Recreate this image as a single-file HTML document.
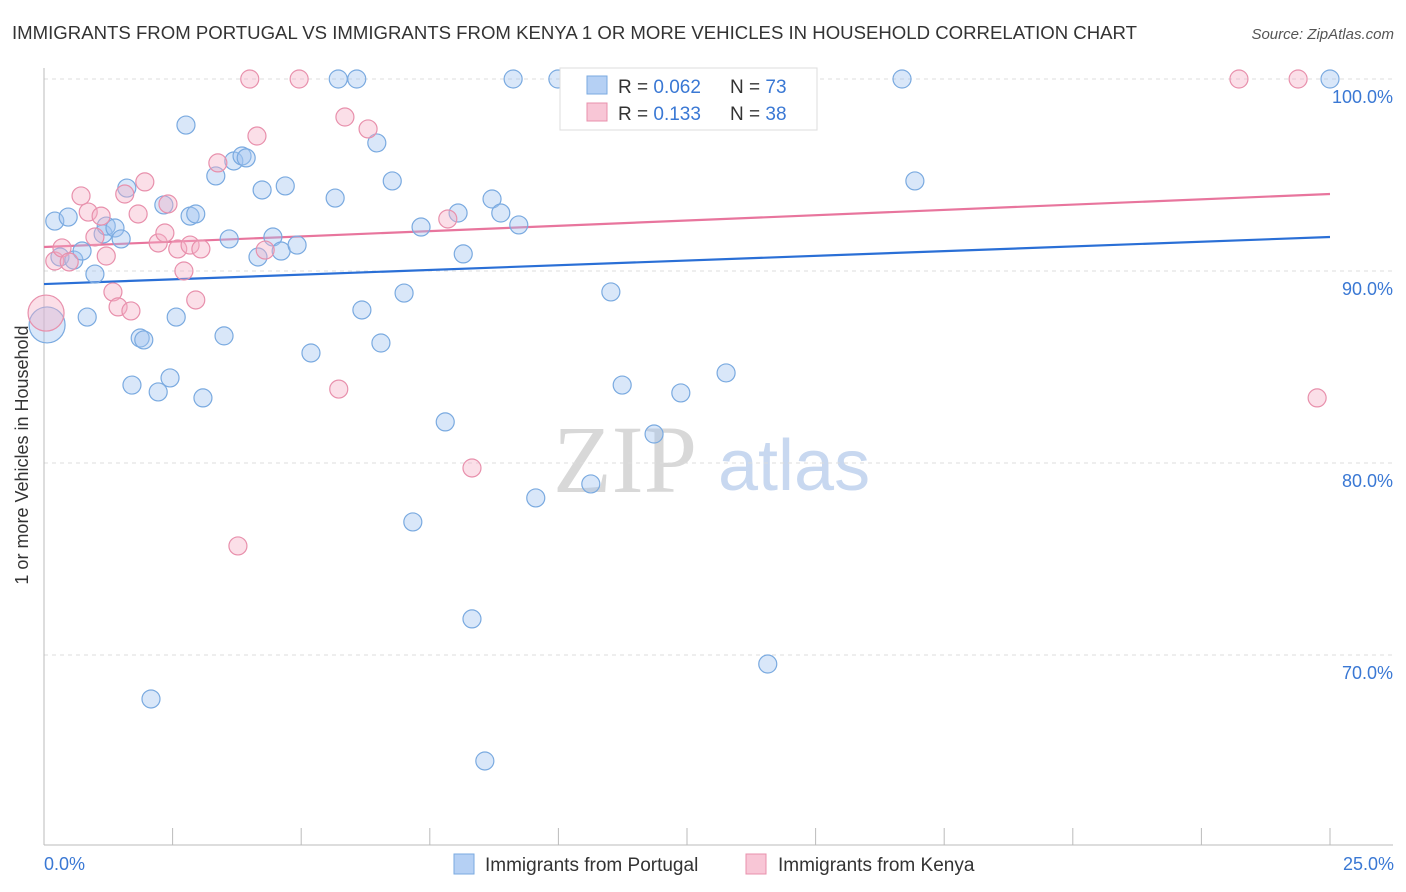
<!DOCTYPE html>
<html><head><meta charset="utf-8"><style>
body{margin:0;background:#fff;font-family:"Liberation Sans",sans-serif;}
#wrap{position:relative;width:1406px;height:892px;overflow:hidden;}
</style></head><body>
<div id="wrap">
<svg id="chart" width="1406" height="892" xmlns="http://www.w3.org/2000/svg">
<text x="12" y="39" font-size="18" fill="#333" textLength="1125" lengthAdjust="spacingAndGlyphs">IMMIGRANTS FROM PORTUGAL VS IMMIGRANTS FROM KENYA 1 OR MORE VEHICLES IN HOUSEHOLD CORRELATION CHART</text>
<text x="1394" y="39" font-size="15" fill="#555" font-style="italic" text-anchor="end">Source: ZipAtlas.com</text>
<g>
<text x="553" y="492" font-size="96" font-family="Liberation Serif,serif" fill="#d8d8d8">ZIP</text>
<text x="718" y="490" font-size="72" fill="#c8d8f0">atlas</text>
</g>
<g id="grid"></g>
<g id="axes"></g>
<g id="lines"></g>
<g id="pts"></g>
<text x="28" y="455" font-size="18" fill="#333" text-anchor="middle" transform="rotate(-90 28 455)">1 or more Vehicles in Household</text>
<text x="44" y="870" font-size="18" fill="#3a78d4">0.0%</text>
<text x="1394" y="870" font-size="18" fill="#3a78d4" text-anchor="end">25.0%</text>
<g>
<rect x="560" y="68" width="257" height="62" fill="#fff" stroke="#ddd"/>
<rect x="587" y="76" width="20" height="18" fill="#b5d0f4" stroke="#7aaae0"/>
<rect x="587" y="103" width="20" height="18" fill="#f8c6d6" stroke="#e890ac"/>
<text x="618" y="93" font-size="19" fill="#333">R = <tspan fill="#3a78d4">0.062</tspan></text>
<text x="730" y="93" font-size="19" fill="#333">N = <tspan fill="#3a78d4">73</tspan></text>
<text x="618" y="120" font-size="19" fill="#333">R =  <tspan fill="#3a78d4">0.133</tspan></text>
<text x="730" y="120" font-size="19" fill="#333">N = <tspan fill="#3a78d4">38</tspan></text>
</g>
<g>
<rect x="454" y="854" width="20" height="20" fill="#b5d0f4" stroke="#7aaae0"/>
<text x="485" y="871" font-size="19" fill="#333">Immigrants from Portugal</text>
<rect x="746" y="854" width="20" height="20" fill="#f8c6d6" stroke="#e890ac"/>
<text x="778" y="871" font-size="19" fill="#333">Immigrants from Kenya</text>
</g>
</svg>
</div>
<script>
const yTicks=[100,90,80,70];
const yTickLabels=["100.0%","90.0%","80.0%","70.0%"];
const xTicks=[0,2.5,5,7.5,10,12.5,15,17.5,20,22.5,25];
const blueX=[0.21,0.47,0.31,0.58,0.74,0.99,0.84,1.15,1.21,1.38,1.50,1.61,1.87,1.94,1.71,2.22,2.45,2.08,2.33,2.57,2.76,2.84,2.95,3.09,3.34,3.50,3.60,3.69,3.85,3.93,4.16,4.24,4.45,4.61,4.69,4.92,5.19,5.66,5.72,6.08,6.18,6.47,6.55,6.77,7.00,7.17,7.33,7.80,8.05,8.15,8.32,8.57,8.71,8.88,9.12,9.23,9.56,9.99,10.63,11.02,11.24,11.72,11.86,12.38,13.26,13.72,13.88,14.07,16.68,16.93,25.0,0.06];
const blueY=[92.60,92.81,90.73,90.57,91.04,89.84,87.60,91.93,92.34,92.24,91.67,94.32,86.51,86.41,84.06,83.70,84.43,67.71,93.44,87.60,97.60,92.86,92.97,83.39,94.95,86.62,91.67,95.73,95.99,95.89,90.73,94.22,91.77,91.04,94.43,91.35,85.73,93.80,100,100,87.97,96.67,86.25,94.69,88.85,76.93,92.29,82.14,93.02,90.89,71.88,64.48,93.75,93.02,100,92.40,78.18,100,78.91,88.91,84.06,100,81.51,83.65,84.69,98.80,100,69.53,100,94.69,100,87.19];
const blueSize=[9,9,9,9,9,9,9,9,9,9,9,9,9,9,9,9,9,9,9,9,9,9,9,9,9,9,9,9,9,9,9,9,9,9,9,9,9,9,9,9,9,9,9,9,9,9,9,9,9,9,9,9,9,9,9,9,9,9,9,9,9,9,9,9,9,9,9,9,9,9,9,18];
const pinkX=[0.04,0.21,0.35,0.49,0.72,0.86,0.99,1.11,1.21,1.34,1.44,1.69,1.57,1.83,1.96,2.22,2.35,2.41,2.60,2.72,2.84,2.95,3.05,3.38,3.77,4.00,4.14,4.30,4.96,5.73,5.85,6.30,7.85,8.32,23.23,24.38,24.75];
const pinkY=[87.81,90.52,91.20,90.47,93.91,93.07,91.77,92.86,90.78,88.91,88.13,87.92,94.01,92.97,94.64,91.46,91.98,93.49,91.15,90.0,91.35,88.49,91.15,95.63,75.68,100,97.03,91.09,100,83.85,98.02,97.40,92.71,79.74,100,100,83.39];
const pinkSize=[18,9,9,9,9,9,9,9,9,9,9,9,9,9,9,9,9,9,9,9,9,9,9,9,9,9,9,9,9,9,9,9,9,9,9,9,9];
const blueTrend=[89.32,91.77];
const pinkTrend=[91.25,94.01];
const NS="http://www.w3.org/2000/svg";
const X=v=>44+v/25*1286;
const Y=v=>79+(100-v)*19.2;
function mk(t,a,p){const e=document.createElementNS(NS,t);for(const k in a)e.setAttribute(k,a[k]);document.getElementById(p).appendChild(e);return e;}
yTicks.forEach((t,i)=>{
 const l=mk('line',{x1:44,x2:1393,y1:Y(t),y2:Y(t),stroke:'#ddd','stroke-dasharray':'4,4'},'grid');
 
 
 const tx=mk('text',{x:1393,y:Y(t)+24,'font-size':18,fill:'#3a78d4','text-anchor':'end'},'grid');
 tx.textContent=yTickLabels[i];
 
 
});
const ax=mk('line',{x1:44,x2:1393,y1:845,y2:845,stroke:'#bbb'},'axes');


const ay=mk('line',{x1:44,x2:44,y1:68,y2:845,stroke:'#bbb'},'axes');


xTicks.forEach(t=>{
 const l=mk('line',{x1:X(t),x2:X(t),y1:828,y2:845,stroke:'#bbb'},'axes');
 
 
});
function pts(xs,ys,ss,fill,stroke,name){
 xs.forEach((x,i)=>{
  const c=mk('circle',{cx:X(x),cy:Y(ys[i]),r:ss[i],fill:fill,stroke:stroke,'stroke-width':1.2},'pts');
  
  
 });
}
pts(blueX,blueY,blueSize,'rgba(160,196,240,0.4)','#7aaae0','portugal-point');
pts(pinkX,pinkY,pinkSize,'rgba(245,175,198,0.4)','#e890ac','kenya-point');
const bl=mk('line',{x1:X(0),x2:X(25),y1:Y(blueTrend[0]),y2:Y(blueTrend[1]),stroke:'#2a6fd6','stroke-width':2.2},'lines');


const pl=mk('line',{x1:X(0),x2:X(25),y1:Y(pinkTrend[0]),y2:Y(pinkTrend[1]),stroke:'#e8759d','stroke-width':2.2},'lines');


</script>
</body></html>
